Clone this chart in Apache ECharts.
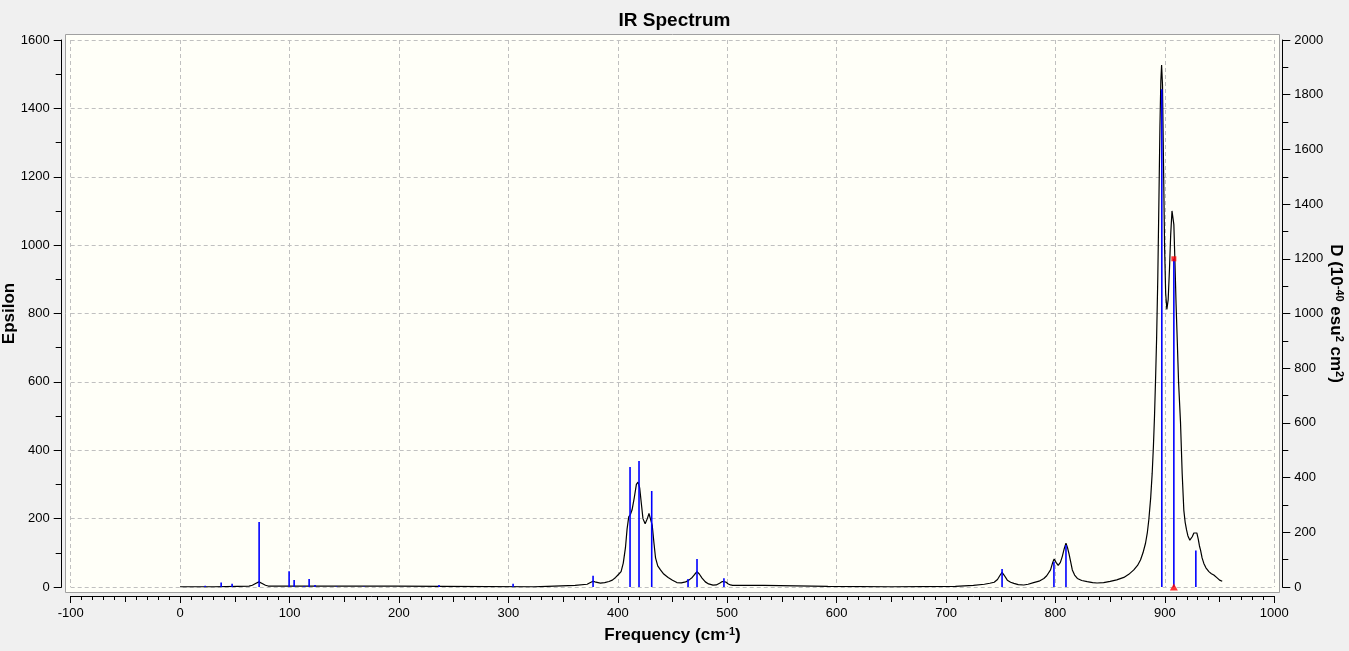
<!DOCTYPE html>
<html><head><meta charset="utf-8">
<script src="https://cdn.jsdelivr.net/npm/echarts@6/dist/echarts.min.js"></script>
<style>html,body{margin:0;padding:0;background:#f0f0f0;}#c{width:1349px;height:651px;}</style>
</head><body><div id="c"></div>
<script>
// Axis ranges / ticks
const xRange = [-100, 1000];
const xLabelStep = 100;
const epsRange = [0, 1600];
const dRange = [0, 2000];
const yLabelStep = 200;

// Broadened spectrum (frequency cm-1, epsilon)
const curveFreq = [0,31,31.7,63,66,69,72,75,78,80.5,197,198,323,323.5,342,342.5,361,362,372,375,377.4,380,384,388,392,395,398,401,403,405,407,408.5,410,411.5,413,415,417,418.5,420,421.5,423,425,427,428.5,430,431.5,433,434.5,436.5,439,442,446,450,454,458,462,465,468,470.5,472.4,474.5,477,480,483,487,490,493,495.5,497,499,501,503,505,533.5,534,592,592.5,650,651,708.5,709,725,735,740,744,747,749.5,751.2,753,756,759,762,766,771,775,780,785,789.4,792,795.5,797.5,798.8,800.5,802.5,804.5,806.2,808,809.6,811,812.3,814,815.4,817.5,820,824,829,834,838,844,850,856,862.5,867,871.6,875,877.7,880,882.3,884,885.3,887,888.4,889.5,890.5,891.5,892.4,893.5,894.5,895.5,896.3,897,897.8,898.7,899.7,900.7,901.8,903,904.2,905.3,906.5,907.3,908.2,909.2,910.2,911.3,912.5,914.3,915.8,917.3,918.5,919.8,921,922.8,924,925,926.5,928,929.2,930.5,931.6,932.6,934,935.6,937.5,940.2,942.5,944.7,948,950,952.4];
const curveEps = [0.5,0.5,2.5,2.5,5,10,15,10,5,2.8,2.8,0.5,0.5,2.5,2.5,4.5,4.5,8,8,13,17,14,11.5,13,16,20,28,38,45,70,115,170,205,212,225,260,300,307,290,245,200,185,200,215,212,180,130,85,62,50,38,28,20,13,12,15,20,28,38,45,38,26,15,9,5.5,6,11,16,18,14,9,6,5,5,2,2,0.3,0.3,2,2,5,5,8,11,14,22,35,43,35,20,14,10.7,7,5.8,8,12.7,17,25,33,50,72,82,72,63,72,89,112,128,115,98,72,50,35,25,19,15.6,13,11.7,13,16.6,21,28,37,50,63,79,100,128,160,196,260,333,410,498,610,722,900,1120,1350,1480,1527,1470,1250,1000,860,812,840,930,1030,1100,1105,1060,950,830,722,600,480,333,225,190,167,150,137,140,147,158,162,158,140,120,108,85,69,56,45,39,35,26,20,16.6];

// Stick spectrum (frequency cm-1, D in 10^-40 esu^2 cm^2)
const stickFreq = [22.9,37.5,47.5,72.2,99.6,104.2,113.3,117.9,123.3,142.9,168.1,236.6,304.3,377.4,411.2,419.4,431.0,464.2,472.4,497.0,751.2,798.6,809.6,897.2,908.2,928.3];
const stickD = [5,16,12,238,58,26,4,29,7,2,2,7,12,41,439,461,351,29,102,32,66,92,154,1820,1200,133];

// Selected mode marker
const selFreq = 908.2;
const selD = 1200;

const FONT = 'Liberation Sans, Arial, sans-serif';
const chart = echarts.init(document.getElementById('c'), null, {renderer: 'canvas'});
const dashed = {show: true, lineStyle: {color: '#c0c0c0', type: [4, 3], width: 1}};
const plain = v => String(v);
const labelStyle = {color: '#000', fontSize: 13, fontFamily: FONT, formatter: plain};
const nameStyle = {color: '#000', fontSize: 17, fontWeight: 'bold', fontFamily: FONT,
  rich: {sup: {fontSize: 11, fontWeight: 'bold', fontFamily: FONT, color: '#000', verticalAlign: 'top', padding: [0, 0, 7, 0]}}};

const option = {
  backgroundColor: '#f0f0f0',
  animation: false,
  textStyle: {fontFamily: FONT},
  title: {text: 'IR Spectrum', left: 'center', top: 6,
    textStyle: {fontSize: 19, fontWeight: 'bold', color: '#000', fontFamily: FONT}},
  graphic: {elements: [{type: 'rect', z: -10, silent: true,
    shape: {x: 65.5, y: 34.5, width: 1214, height: 558},
    style: {fill: '#fffff8', stroke: '#a0a0a0', lineWidth: 1}}]},
  grid: {left: 70.7, right: 74.7, top: 40, bottom: 64, containLabel: false, outerBoundsMode: 'none'},
  xAxis: [{
    type: 'value', min: xRange[0], max: xRange[1], interval: xLabelStep, position: 'bottom', offset: 9,
    name: 'Frequency (cm{sup|-1})', nameLocation: 'middle', nameGap: 30, nameMoveOverlap: false, nameTextStyle: nameStyle,
    axisLine: {show: true, onZero: false, lineStyle: {color: '#000', width: 1}},
    axisTick: {show: true, length: 7, lineStyle: {color: '#000'}},
    minorTick: {show: true, splitNumber: 10, length: 4, lineStyle: {color: '#000'}},
    axisLabel: Object.assign({margin: 11}, labelStyle),
    splitLine: dashed
  }, {
    type: 'value', min: xRange[0], max: xRange[1], interval: xLabelStep / 2, position: 'bottom', offset: 9,
    axisLine: {show: false, onZero: false},
    axisTick: {show: true, length: 6, lineStyle: {color: '#000'}},
    axisLabel: {show: false}, splitLine: {show: false}
  }],
  yAxis: [{
    type: 'value', min: epsRange[0], max: epsRange[1], interval: yLabelStep, position: 'left', offset: 9,
    name: 'Epsilon', nameLocation: 'middle', nameRotate: 90, nameGap: 44, nameMoveOverlap: false, nameTextStyle: nameStyle,
    axisLine: {show: true, onZero: false, lineStyle: {color: '#000', width: 1}},
    axisTick: {show: true, length: 8, lineStyle: {color: '#000'}},
    minorTick: {show: true, splitNumber: 2, length: 6, lineStyle: {color: '#000'}},
    axisLabel: Object.assign({margin: 12}, labelStyle),
    splitLine: dashed
  }, {
    type: 'value', min: dRange[0], max: dRange[1], interval: yLabelStep, position: 'right', offset: 8,
    name: 'D (10{sup|-40} esu{sup|2} cm{sup|2})', nameLocation: 'middle', nameRotate: -90, nameGap: 44, nameMoveOverlap: false, nameTextStyle: nameStyle,
    axisLine: {show: true, onZero: false, lineStyle: {color: '#000', width: 1}},
    axisTick: {show: true, length: 8, lineStyle: {color: '#000'}},
    minorTick: {show: true, splitNumber: 2, length: 6, lineStyle: {color: '#000'}},
    axisLabel: Object.assign({margin: 12}, labelStyle),
    splitLine: {show: false}
  }],
  series: [{
    type: 'line', xAxisIndex: 0, yAxisIndex: 0, z: 2,
    data: curveFreq.map((f, i) => [f, curveEps[i]]),
    showSymbol: false, symbol: 'none', smooth: false,
    lineStyle: {color: '#000', width: 1.2}
  }, {
    type: 'custom', xAxisIndex: 0, yAxisIndex: 1, z: 3,
    data: stickFreq.map((f, i) => [f, stickD[i]]),
    encode: {x: 0, y: 1},
    renderItem: function (params, api) {
      const p0 = api.coord([api.value(0), 0]);
      const p1 = api.coord([api.value(0), api.value(1)]);
      return {type: 'line', shape: {x1: p0[0], y1: p0[1], x2: p1[0], y2: p1[1]},
        style: {stroke: '#0000ff', lineWidth: 1.6}};
    }
  }, {
    type: 'scatter', xAxisIndex: 0, yAxisIndex: 1, z: 5,
    data: [[selFreq, selD]], symbol: 'rect', symbolSize: 5,
    itemStyle: {color: '#ff0000'}
  }, {
    type: 'scatter', xAxisIndex: 0, yAxisIndex: 1, z: 5,
    data: [[selFreq, 0]], symbol: 'triangle', symbolSize: [8, 7],
    itemStyle: {color: '#ff0000'}
  }]
};
chart.setOption(option);
</script>
</body></html>
